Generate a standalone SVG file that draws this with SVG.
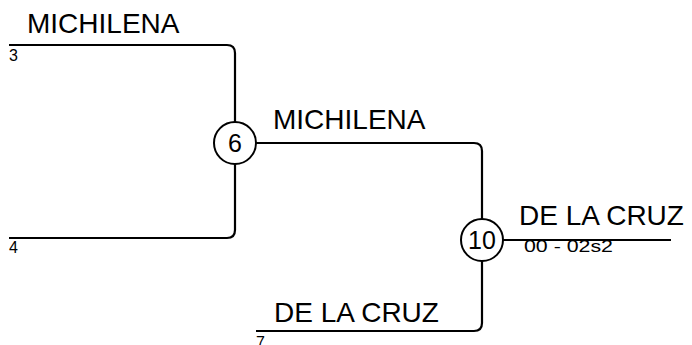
<svg xmlns="http://www.w3.org/2000/svg" width="692" height="345" viewBox="0 0 692 345">
<style>
.ln{fill:none;stroke:#000;stroke-width:2.2}
.nd{fill:#fff;stroke:#000;stroke-width:2}
.big{font-family:"Liberation Sans",Arial,sans-serif;font-size:28px;fill:#000}
.num{font-family:"Liberation Sans",Arial,sans-serif;font-size:25px;fill:#000;text-anchor:middle}
.sm{font-family:"Liberation Sans",Arial,sans-serif;font-size:16px;fill:#000}
.sc{font-family:"Liberation Sans",Arial,sans-serif;font-size:17px;fill:#000}
</style>
<rect width="692" height="345" fill="#fff"/>
<g id="connectors">
<path class="ln" d="M9,45 H227 Q235,45 235,53 V230 Q235,238 227,238 H9"/>
<path class="ln" d="M235,143 H474 Q482,143 482,151 V323 Q482,331 474,331 H256"/>
<path class="ln" d="M482,240 H671"/>
</g>
<g id="labels">
<text class="big" x="27" y="33">MICHILENA</text>
<text class="sm" x="9" y="61">3</text>
<text class="sm" x="9" y="253">4</text>
<text class="big" x="273" y="129">MICHILENA</text>
<text class="big" x="519" y="225">DE LA CRUZ</text>
<text class="sc" x="524" y="252" textLength="89" lengthAdjust="spacingAndGlyphs">00 - 02s2</text>
<text class="big" x="274" y="322">DE LA CRUZ</text>
<text class="sm" x="256" y="348">7</text>
</g>
<g id="node6">
<circle class="nd" cx="235" cy="143" r="21"/>
<text class="num" x="235" y="152">6</text>
</g>
<g id="node10">
<circle class="nd" cx="482" cy="240" r="21"/>
<text class="num" x="482" y="249">10</text>
</g>
</svg>
